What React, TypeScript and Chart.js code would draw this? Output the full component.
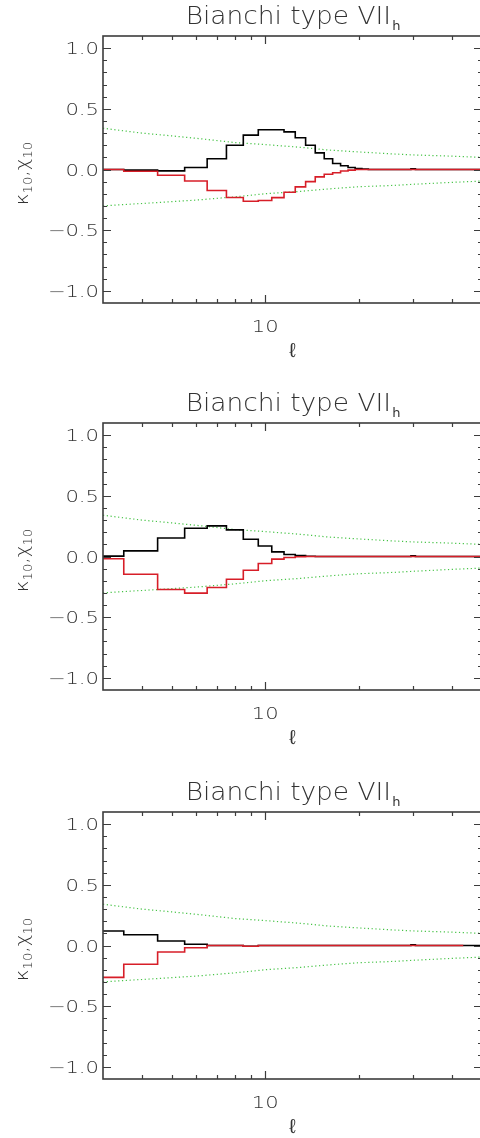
import React, { useEffect, useRef } from "react";
import { Chart, registerables } from "chart.js";

Chart.register(...registerables);

// ---------- data ----------
// multipole ell for every step of the histograms
const ELL = [
  3, 4, 5, 6, 7, 8, 9, 10, 11, 12, 13, 14, 15, 16, 17, 18, 19, 20, 21, 22, 23, 24, 25, 26,
  27, 28, 29, 30, 31, 32, 33, 34, 35, 36, 37, 38, 39, 40, 41, 42, 43, 44, 45, 46, 47, 48, 49, 50,
];

// panel 1 (black = kappa, red = chi)
const P1_KAPPA = [
  0, -0.005, -0.011, 0.016, 0.088, 0.2, 0.283, 0.327, 0.327, 0.31, 0.262, 0.2, 0.137, 0.088, 0.05, 0.031, 0.016, 0.007, 0.003,
  0, 0, 0, 0, 0, 0, 0, 0,
  0.006,
  0, 0, 0, 0, 0, 0, 0, 0, 0, 0, 0, 0, 0, 0, 0, 0, 0, 0, 0, 0,
];
const P1_CHI = [
  0, -0.014, -0.047, -0.095, -0.173, -0.231, -0.261, -0.255, -0.232, -0.187, -0.143, -0.1, -0.061, -0.039, -0.027, -0.012, -0.005, 0, 0,
  0, 0, 0, 0, 0, 0, 0, 0, 0, 0, 0, 0, 0, 0, 0, 0, 0, 0, 0, 0, 0, 0, 0, 0, 0, 0, 0, 0, 0, 0,
];

// panel 2
const P2_KAPPA = [
  0.003, 0.046, 0.153, 0.233, 0.252, 0.219, 0.142, 0.087, 0.038, 0.016, 0.008, 0.002,
  0, 0, 0, 0, 0, 0, 0, 0, 0, 0, 0, 0, 0, 0, 0,
  0.006,
  0, 0, 0, 0, 0, 0, 0, 0, 0, 0, 0, 0, 0, 0, 0, 0, 0, 0, 0, 0,
];
const P2_CHI = [
  -0.018, -0.146, -0.272, -0.302, -0.255, -0.187, -0.113, -0.058, -0.022, -0.008, -0.002,
  0, 0, 0, 0, 0, 0, 0, 0, 0, 0, 0, 0, 0, 0, 0, 0, 0, 0, 0, 0, 0, 0, 0, 0, 0, 0, 0, 0, 0, 0, 0, 0, 0, 0, 0, 0, 0,
];

// panel 3
const P3_KAPPA = [
  0.12, 0.089, 0.037, 0.01, 0, 0, -0.006,
  0, 0, 0, 0, 0, 0, 0, 0, 0, 0, 0, 0, 0, 0, 0, 0, 0, 0, 0, 0,
  0.006,
  0, 0, 0, 0, 0, 0, 0, 0, 0, 0, 0, 0, 0, 0, 0, 0, 0, 0, 0, 0,
];
const P3_CHI = [
  -0.263, -0.155, -0.054, -0.018, 0, 0, -0.006,
  0, 0, 0, 0, 0, 0, 0, 0, 0, 0, 0, 0, 0, 0, 0, 0, 0, 0, 0, 0, 0, 0, 0, 0, 0, 0, 0, 0, 0, 0, 0, 0, 0, 0, 0,
];

// green dotted confidence band (same in every panel)
const BAND_ELL = [3, 4, 5, 6, 8, 10, 13, 16, 20, 25, 30, 40, 50];
const BAND_UPPER = [0.34, 0.3, 0.277, 0.257, 0.222, 0.205, 0.183, 0.16, 0.145, 0.13, 0.12, 0.11, 0.1];
const BAND_LOWER = [-0.3, -0.28, -0.265, -0.252, -0.225, -0.2, -0.18, -0.16, -0.142, -0.133, -0.122, -0.106, -0.095];

// axes
const X_MIN = 3;
const X_MAX = 50;
const Y_MIN = -1.1;
const Y_MAX = 1.1;
const X_MAJOR = [10];
const X_MAJOR_LABELS = ["10"];
const X_MINOR = [4, 5, 6, 7, 8, 9, 20, 30, 40];
const Y_MAJOR = [-1, -0.5, 0, 0.5, 1];
const Y_MAJOR_LABELS = ["\u22121.0", "\u22120.5", "0.0", "0.5", "1.0"];
const Y_MINOR = [-0.9, -0.8, -0.7, -0.6, -0.4, -0.3, -0.2, -0.1, 0.1, 0.2, 0.3, 0.4, 0.6, 0.7, 0.8, 0.9];

const TITLE_MAIN = "Bianchi type VII";
const TITLE_SUB = "h";
const X_TITLE = "\u2113";

const PANELS = [
  { kappa: P1_KAPPA, chi: P1_CHI },
  { kappa: P2_KAPPA, chi: P2_CHI },
  { kappa: P3_KAPPA, chi: P3_CHI },
];

// ---------- layout ----------
const CANVAS_W = 500;
const CANVAS_H = 388;
const PANEL_TOPS = [0, 387, 776];
const PAD = { left: 103, top: 36, right: 18, bottom: 85 };

const AXIS_COLOR = "#3c3c3c";
const TEXT_COLOR = "#333333";
const RED = "rgb(215,30,40)";
const GREEN = "rgb(70,195,70)";
const FONT_FAMILY = '"DejaVu Sans", "Liberation Sans", sans-serif';

function stepPoints(vals: number[]) {
  const pts = ELL.map((l, i) => ({ x: l - 0.5, y: vals[i] }));
  pts.push({ x: ELL[ELL.length - 1] + 0.5, y: vals[vals.length - 1] });
  return pts;
}

function stretchText(
  ctx: CanvasRenderingContext2D,
  s: string,
  x: number,
  y: number,
  font: string,
  sx: number,
  align: "left" | "right" | "center"
) {
  ctx.save();
  ctx.font = font;
  const w = ctx.measureText(s).width * sx;
  const x0 = align === "right" ? x - w : align === "center" ? x - w / 2 : x;
  ctx.translate(x0, y);
  ctx.scale(sx, 1);
  ctx.textAlign = "left";
  ctx.textBaseline = "alphabetic";
  ctx.fillText(s, 0, 0);
  ctx.restore();
  return w;
}

const framePlugin = {
  id: "idlFrame",
  afterDraw(chart: any) {
    const { ctx, chartArea: a } = chart;
    const xs = chart.scales.x;
    const ys = chart.scales.y;
    ctx.save();
    // frame
    ctx.strokeStyle = AXIS_COLOR;
    ctx.lineWidth = 1.6;
    ctx.strokeRect(a.left, a.top, a.right - a.left, a.bottom - a.top);
    // ticks
    ctx.lineWidth = 1.2;
    ctx.beginPath();
    const yTick = (v: number, len: number) => {
      const p = Math.round(ys.getPixelForValue(v)) + 0.5;
      ctx.moveTo(a.left, p);
      ctx.lineTo(a.left + len, p);
      ctx.moveTo(a.right, p);
      ctx.lineTo(a.right - len, p);
    };
    const xTick = (v: number, len: number) => {
      const p = Math.round(xs.getPixelForValue(v)) + 0.5;
      ctx.moveTo(p, a.bottom);
      ctx.lineTo(p, a.bottom - len);
      ctx.moveTo(p, a.top);
      ctx.lineTo(p, a.top + len);
    };
    Y_MAJOR.forEach((v) => yTick(v, 8));
    Y_MINOR.forEach((v) => yTick(v, 4));
    X_MAJOR.forEach((v) => xTick(v, 8));
    X_MINOR.forEach((v) => xTick(v, 4));
    ctx.stroke();

    // tick labels
    ctx.fillStyle = TEXT_COLOR;
    const tickFont = `300 16px ${FONT_FAMILY}`;
    Y_MAJOR.forEach((v, i) => {
      const p = ys.getPixelForValue(v);
      stretchText(ctx, Y_MAJOR_LABELS[i], 99, p + 6, tickFont, 1.32, "right");
    });
    X_MAJOR.forEach((v, i) => {
      const p = xs.getPixelForValue(v);
      stretchText(ctx, X_MAJOR_LABELS[i], p, a.bottom + 29, tickFont, 1.32, "center");
    });

    // x title
    const cx = (a.left + a.right) / 2;
    stretchText(ctx, X_TITLE, cx, a.bottom + 54, `300 20px ${FONT_FAMILY}`, 1.0, "center");

    // title with subscript
    const tSx = 1.1;
    const tFont = `300 24px ${FONT_FAMILY}`;
    const sFont = `13px ${FONT_FAMILY}`;
    ctx.font = tFont;
    const tw = ctx.measureText(TITLE_MAIN).width * tSx;
    ctx.font = sFont;
    const sw = ctx.measureText(TITLE_SUB).width;
    const tx = cx - (tw + sw) / 2;
    stretchText(ctx, TITLE_MAIN, tx, a.top - 12, tFont, tSx, "left");
    stretchText(ctx, TITLE_SUB, tx + tw + 1, a.top - 6, sFont, 1.0, "left");

    // y title: kappa_10, chi_10 (rotated)
    const cy = (a.top + a.bottom) / 2 + 4;
    ctx.save();
    ctx.translate(28, cy);
    ctx.rotate(-Math.PI / 2);
    const mFont = `300 18px ${FONT_FAMILY}`;
    const subF = `300 12px ${FONT_FAMILY}`;
    const parts: [string, string, number][] = [
      ["\u03ba", mFont, 0],
      ["10", subF, 4],
      [",", mFont, 0],
      ["\u03c7", mFont, 0],
      ["10", subF, 4],
    ];
    const sxY = 1.1;
    let total = 0;
    parts.forEach(([s, f]) => {
      ctx.font = f;
      total += ctx.measureText(s).width * sxY;
    });
    let px = -total / 2;
    parts.forEach(([s, f, dy]) => {
      px += stretchText(ctx, s, px, dy, f, sxY, "left");
    });
    ctx.restore();

    ctx.restore();
  },
};

function Panel({ kappa, chi, top }: { kappa: number[]; chi: number[]; top: number }) {
  const ref = useRef<HTMLCanvasElement | null>(null);
  useEffect(() => {
    if (!ref.current) return;
    const chart = new Chart(ref.current, {
      type: "line",
      data: {
        datasets: [
          {
            data: stepPoints(chi),
            borderColor: RED,
            borderWidth: 1.6,
            stepped: true,
            pointRadius: 0,
            fill: false,
          },
          {
            data: stepPoints(kappa),
            borderColor: "#000",
            borderWidth: 1.6,
            stepped: true,
            pointRadius: 0,
            fill: false,
          },
          {
            data: BAND_ELL.map((l, i) => ({ x: l, y: BAND_UPPER[i] })),
            borderColor: GREEN,
            borderWidth: 1.2,
            borderDash: [1.2, 2.6],
            pointRadius: 0,
            fill: false,
          },
          {
            data: BAND_ELL.map((l, i) => ({ x: l, y: BAND_LOWER[i] })),
            borderColor: GREEN,
            borderWidth: 1.2,
            borderDash: [1.2, 2.6],
            pointRadius: 0,
            fill: false,
          },
        ],
      },
      options: {
        responsive: false,
        animation: false,
        devicePixelRatio: 1,
        layout: { padding: PAD },
        plugins: {
          legend: { display: false },
          tooltip: { enabled: false },
          title: { display: false },
        },
        elements: { line: { tension: 0 }, point: { radius: 0 } },
        scales: {
          x: { type: "logarithmic", min: X_MIN, max: X_MAX, display: false },
          y: { type: "linear", min: Y_MIN, max: Y_MAX, display: false },
        },
      },
      plugins: [framePlugin],
    } as any);
    return () => chart.destroy();
  }, [kappa, chi]);
  return (
    <canvas
      ref={ref}
      width={CANVAS_W}
      height={CANVAS_H}
      style={{ position: "absolute", left: 0, top, width: CANVAS_W, height: CANVAS_H, display: "block" }}
    />
  );
}

export default function App() {
  return (
    <div
      style={{
        position: "fixed",
        left: 0,
        top: 0,
        width: 480,
        height: 1138,
        overflow: "hidden",
        background: "#fff",
      }}
    >
      {PANELS.map((p, i) => (
        <Panel key={i} kappa={p.kappa} chi={p.chi} top={PANEL_TOPS[i]} />
      ))}
    </div>
  );
}
